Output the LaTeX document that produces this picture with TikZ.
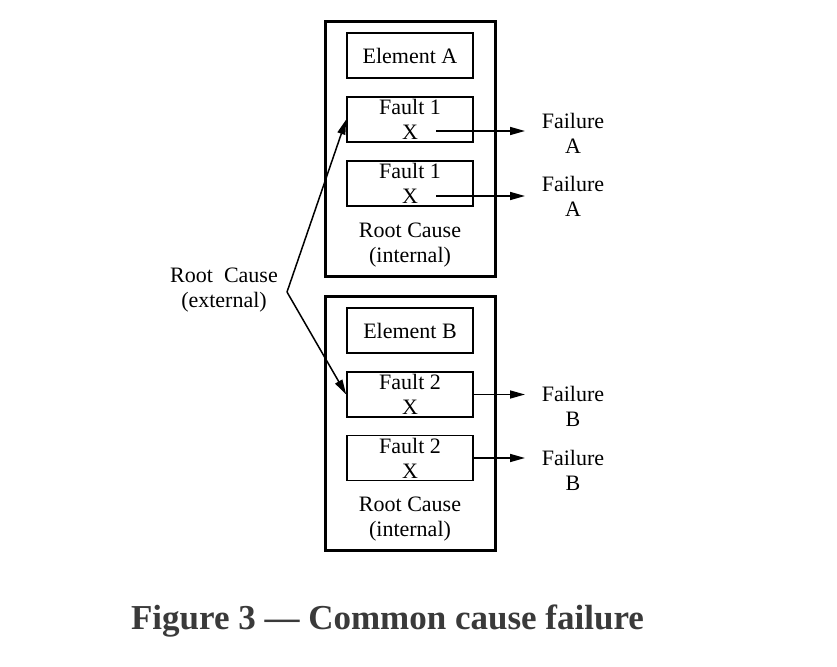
\documentclass[tikz,border=0pt]{standalone}
\usepackage{fontspec}
\setmainfont{Liberation Serif}
\usetikzlibrary{arrows.meta, positioning}
\definecolor{capgray}{HTML}{3A3A3A}

\begin{document}
\begin{tikzpicture}[x=1pt, y=1pt]
	\tikzstyle{every node}+=[inner sep=0pt, align=center, font=\fontsize{22}{25}\selectfont]
	\tikzstyle{unit}=[draw=black, line width=3pt, minimum width=170pt, minimum height=254pt]
	\tikzstyle{box}=[draw=black, line width=1.6pt, minimum width=126pt, minimum height=45pt]
	\tikzstyle{arr}=[draw=black, line width=1.5pt, -{Triangle[length=15pt, width=8pt]}]
	\useasboundingbox (0,0) rectangle (837,-666);
	% element A
	\node [unit] (ua) at (410,-149) {};
	\node [box] (ea) at (410,-55.5) {Element A};
	\node [box] (f1) at (410,-119.5) {Fault 1\\X};
	\node [box] (f2) at (410,-183.5) {Fault 1\\X};
	\node (ia) at (410,-245) {Root Cause\\(internal)};
	% element B
	\node [unit] (ub) at (410,-423.5) {};
	\node [box] (eb) at (410,-330.5) {Element B};
	\node [box] (f3) at (410,-394.5) {Fault 2\\X};
	\node [box] (f4) at (410,-458) {Fault 2\\X};
	\node (ib) at (410,-519) {Root Cause\\(internal)};
	% failures
	\node (fa1) at (573,-133) {Failure\\A};
	\node (fa2) at (573,-196.5) {Failure\\A};
	\node (fb1) at (573,-406.5) {Failure\\B};
	\node (fb2) at (573,-470.5) {Failure\\B};
	\coordinate (x1) at (436,-131);
	\coordinate (x2) at (436,-196);
	\draw [arr] (x1) -- (525,-131);
	\draw [arr] (x2) -- (525,-196);
	\draw [arr] (f3.east) -- (525,-394.5);
	\draw [arr] (f4.east) -- (525,-458);
	% external root cause
	\node (ext) at (224,-290) {Root~~Cause\\(external)};
	\coordinate (bend) at (287,-292);
	\draw [arr] (bend) -- (f1.west);
	\draw [arr] (bend) -- (f3.west);
	% caption
	\node [font=\fontsize{35}{40}\selectfont\bfseries, text=capgray] (cap) at (387.5,-621) {Figure 3 --- Common cause failure};
\end{tikzpicture}
\end{document}
